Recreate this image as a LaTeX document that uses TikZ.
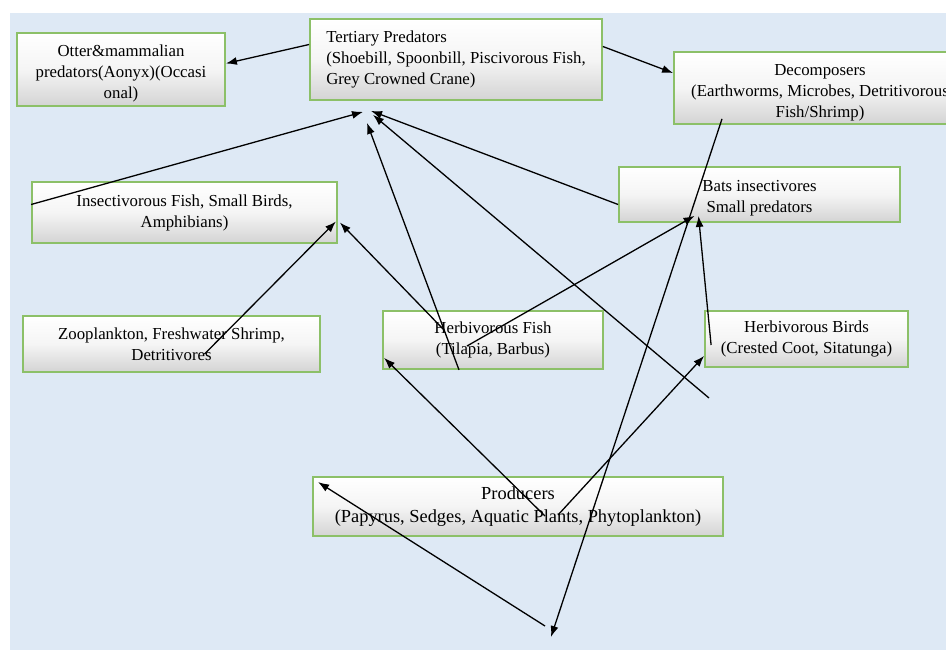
\documentclass[tikz,border=0pt]{standalone}
\usepackage{fontspec}
\setmainfont{Liberation Serif}
\usetikzlibrary{arrows.meta}
\definecolor{bgblue}{RGB}{222,233,245}
\definecolor{boxgreen}{RGB}{140,192,104}

\begin{document}
\begin{tikzpicture}[x=1pt,y=-1pt,
  foodbox/.style={draw=boxgreen,line width=1.8pt,top color=white,bottom color=black!17,middle color=white!96!black,
    align=center,inner sep=2pt,font=\fontsize{16.8}{21}\selectfont},
  link/.style={line width=1.3pt,-{Latex[length=11pt,width=8pt]}}]

\useasboundingbox (0,0) rectangle (946,650);
\fill[bgblue] (10,13) rectangle (946,650);

\node[foodbox,minimum width=208,minimum height=73] (otter) at (121,69.5) {\rule{0pt}{20pt}Otter\&mammalian\\predators(Aonyx)(Occasi\\onal)};
\node[foodbox,minimum width=292,minimum height=81,align=left] (tert) at (456,59.5) {Tertiary Predators\\(Shoebill, Spoonbill, Piscivorous Fish,\\Grey Crowned Crane)};
\node[foodbox,minimum width=292,minimum height=72] (decomp) at (820,88) {\rule{0pt}{21pt}Decomposers\\(Earthworms, Microbes, Detritivorous\\Fish/Shrimp)};
\node[foodbox,minimum width=305,minimum height=61] (insect) at (184.5,212.5) {Insectivorous Fish, Small Birds,\\Amphibians)};
\node[foodbox,minimum width=281,minimum height=55] (bats) at (759.5,194.5) {\rule{0pt}{19.5pt}Bats insectivores\\Small predators};
\node[foodbox,minimum width=297,minimum height=56] (zoo) at (171.5,344) {Zooplankton, Freshwater Shrimp,\\Detritivores};
\node[foodbox,minimum width=220,minimum height=58] (hfish) at (493,340) {Herbivorous Fish\\(Tilapia, Barbus)};
\node[foodbox,minimum width=203,minimum height=56] (hbirds) at (806.5,339) {Herbivorous Birds\\(Crested Coot, Sitatunga)};
\node[foodbox,minimum width=410,minimum height=59,font=\fontsize{18.4}{23.5}\selectfont] (prod) at (518,506.5) {Producers\\(Papyrus, Sedges, Aquatic Plants, Phytoplankton)};

% loose ends
\coordinate (loose) at (709,398);
\coordinate (bottomtip) at (551,637);
\coordinate (bottomtail) at (545,626);

% links
\draw[link] ([yshift=15pt]tert.west) -- ([yshift=6pt]otter.east);
\draw[link] ([yshift=13pt]tert.east) -- ([yshift=15pt]decomp.west);
\draw[link] ([yshift=8pt]insect.west) -- ([shift={(-93,11)}]tert.south);
\draw[link] ([xshift=-34pt]hfish.south) -- ([shift={(-89,22)}]tert.south);
\draw[link] ([yshift=-10pt]bats.west) -- ([shift={(-85,10)}]tert.south);
\draw[link] (loose) -- ([shift={(-83,14)}]tert.south);
\draw[link] ([shift={(33,10)}]zoo.center) -- ([shift={(-2,9)}]insect.east);
\draw[link] ([shift={(-49,-10)}]hfish.center) -- ([shift={(2,10)}]insect.east);
\draw[link] ([shift={(-26,6)}]hfish.center) -- ([shift={(-65,-7)}]bats.south);
\draw[link] ([shift={(7,6)}]hbirds.west) -- ([shift={(-61,-7)}]bats.south);
\draw[link] ([shift={(-98,-6)}]decomp.south) -- (bottomtip);
\draw[link] (bottomtail) -- ([shift={(6,6)}]prod.north west);
\draw[link] ([shift={(27,9.5)}]prod.center) -- ([shift={(2,-12)}]hfish.south west);
\draw[link] ([shift={(40,8.5)}]prod.center) -- ([shift={(0,-12)}]hbirds.south west);
\end{tikzpicture}
\end{document}
